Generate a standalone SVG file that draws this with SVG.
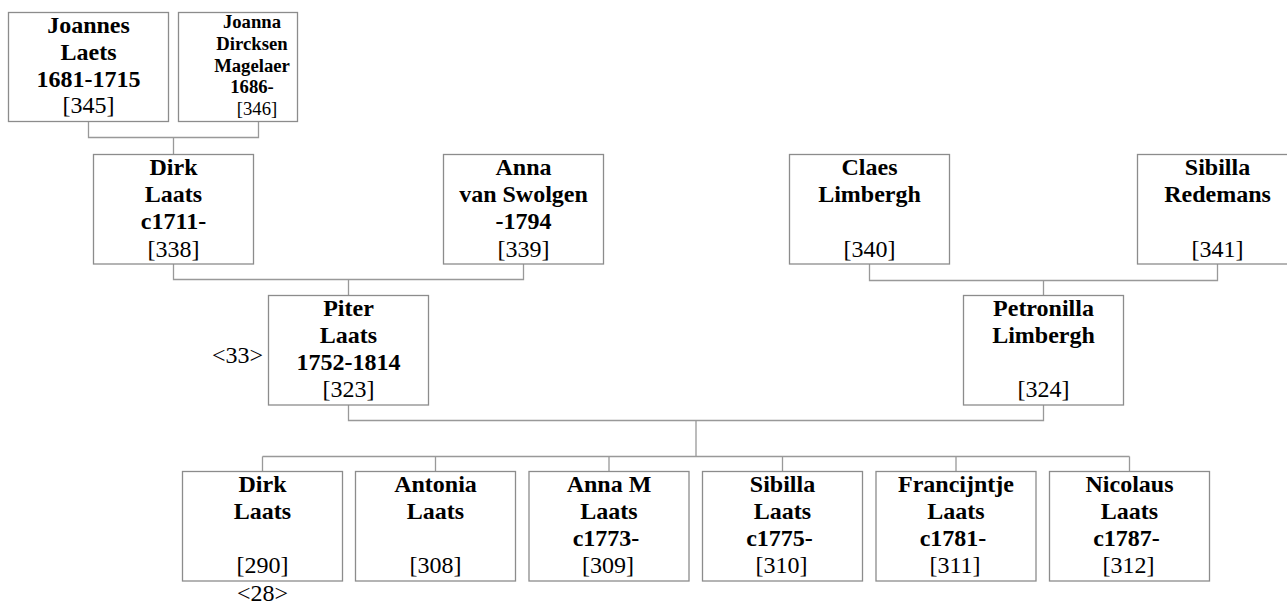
<svg xmlns="http://www.w3.org/2000/svg" width="1287" height="605" viewBox="0 0 1287 605">
<style>
.box{fill:#fff;stroke:#8c8c8c;stroke-width:1.3}
.conn{fill:none;stroke:#999;stroke-width:1.3}
text{font-family:"Liberation Serif","Times New Roman",serif;fill:#000;text-anchor:middle;font-size:24px}
.b{font-weight:bold}
.sm{font-size:18.7px}
.lbl{text-anchor:end}
</style>
<rect width="1287" height="605" fill="#fff"/>
<g id="connectors">
<path class="conn" d="M88.5 122 V137.5 H258.5 V122 M173.5 137.5 V154.5"/>
<path class="conn" d="M173.5 264 V279.5 H523.5 V264 M348.5 279.5 V295.5"/>
<path class="conn" d="M869.5 264 V280.5 H1217.5 V264 M1043.5 280.5 V295.5"/>
<path class="conn" d="M348.5 405 V420.5 H1043.5 V405 M696 420.5 V456.5"/>
<path class="conn" d="M262.5 456.5 H1129.5 M262.5 456.5 V471.5 M435.5 456.5 V471.5 M609 456.5 V471.5 M782.5 456.5 V471.5 M956 456.5 V471.5 M1129.5 456.5 V471.5"/>
</g>
<g id="n345">
<rect class="box" x="8.5" y="12.5" width="160" height="109"/>
<text class="b" x="88.5" y="33">Joannes</text>
<text class="b" x="88.5" y="60">Laets</text>
<text class="b" x="88.5" y="87">1681-1715</text>
<text x="88.5" y="113">[345]</text>
</g>
<g id="n346">
<rect class="box" x="178.5" y="12.5" width="119" height="109"/>
<text class="b sm" x="252" y="28">Joanna</text>
<text class="b sm" x="252" y="50">Dircksen</text>
<text class="b sm" x="252" y="72">Magelaer</text>
<text class="b sm" x="252" y="93">1686-</text>
<text class="sm" x="257" y="115">[346]</text>
</g>
<g id="n338">
<rect class="box" x="93.5" y="154.5" width="160" height="109.5"/>
<text class="b" x="173.5" y="175">Dirk</text>
<text class="b" x="173.5" y="202">Laats</text>
<text class="b" x="173.5" y="229">c1711-</text>
<text x="173.5" y="257">[338]</text>
</g>
<g id="n339">
<rect class="box" x="443.5" y="154.5" width="160" height="109.5"/>
<text class="b" x="523.5" y="175">Anna</text>
<text class="b" x="523.5" y="202">van Swolgen</text>
<text class="b" x="523.5" y="229">-1794</text>
<text x="523.5" y="257">[339]</text>
</g>
<g id="n340">
<rect class="box" x="789.5" y="154.5" width="160" height="109.5"/>
<text class="b" x="869.5" y="175">Claes</text>
<text class="b" x="869.5" y="202">Limbergh</text>
<text x="869.5" y="257">[340]</text>
</g>
<g id="n341">
<rect class="box" x="1137.5" y="154.5" width="160" height="109.5"/>
<text class="b" x="1217.5" y="175">Sibilla</text>
<text class="b" x="1217.5" y="202">Redemans</text>
<text x="1217.5" y="257">[341]</text>
</g>
<g id="n323">
<rect class="box" x="268.5" y="295.5" width="160" height="109.5"/>
<text class="b" x="348.5" y="316">Piter</text>
<text class="b" x="348.5" y="343">Laats</text>
<text class="b" x="348.5" y="370">1752-1814</text>
<text x="348.5" y="397">[323]</text>
<text class="lbl" x="263" y="363">&lt;33&gt;</text>
</g>
<g id="n324">
<rect class="box" x="963.5" y="295.5" width="160" height="109.5"/>
<text class="b" x="1043.5" y="316">Petronilla</text>
<text class="b" x="1043.5" y="343">Limbergh</text>
<text x="1043.5" y="397">[324]</text>
</g>
<g id="n290">
<rect class="box" x="182.5" y="471.5" width="160" height="109.5"/>
<text class="b" x="262.5" y="492">Dirk</text>
<text class="b" x="262.5" y="519">Laats</text>
<text x="262.5" y="573">[290]</text>
<text x="262.5" y="601">&lt;28&gt;</text>
</g>
<g id="n308">
<rect class="box" x="355.5" y="471.5" width="160" height="109.5"/>
<text class="b" x="435.5" y="492">Antonia</text>
<text class="b" x="435.5" y="519">Laats</text>
<text x="435.5" y="573">[308]</text>
</g>
<g id="n309">
<rect class="box" x="529" y="471.5" width="160" height="109.5"/>
<text class="b" x="609" y="492">Anna M</text>
<text class="b" x="609" y="519">Laats</text>
<text class="b" x="606" y="546">c1773-</text>
<text x="608" y="573">[309]</text>
</g>
<g id="n310">
<rect class="box" x="702.5" y="471.5" width="160" height="109.5"/>
<text class="b" x="782.5" y="492">Sibilla</text>
<text class="b" x="782.5" y="519">Laats</text>
<text class="b" x="779.5" y="546">c1775-</text>
<text x="781.5" y="573">[310]</text>
</g>
<g id="n311">
<rect class="box" x="876" y="471.5" width="160" height="109.5"/>
<text class="b" x="956" y="492">Francijntje</text>
<text class="b" x="956" y="519">Laats</text>
<text class="b" x="953" y="546">c1781-</text>
<text x="955" y="573">[311]</text>
</g>
<g id="n312">
<rect class="box" x="1049.5" y="471.5" width="160" height="109.5"/>
<text class="b" x="1129.5" y="492">Nicolaus</text>
<text class="b" x="1129.5" y="519">Laats</text>
<text class="b" x="1126.5" y="546">c1787-</text>
<text x="1128.5" y="573">[312]</text>
</g>
</svg>
